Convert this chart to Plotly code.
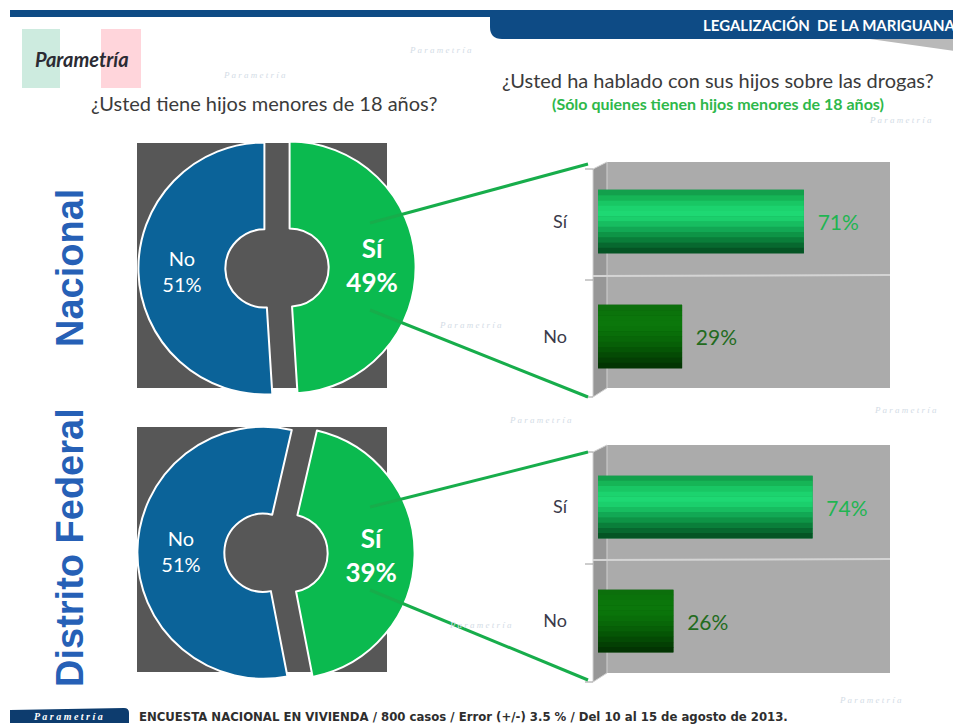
import plotly.graph_objects as go

# the page body keeps its default 8px margin, so the figure is 8px smaller
# and every position below is given in window pixels
OFF = 8
W, H = 961 - OFF, 726 - OFF

# ¿Usted tiene hijos menores de 18 años?
pie_labels = ["Sí", "No"]
nacional_hijos = [49, 51]
df_hijos = [39, 51]

# ¿Usted ha hablado con sus hijos sobre las drogas?
bar_cats = ["Sí", "No"]
nacional_hablado = [71, 29]
df_hablado = [74, 26]

BLUE = "#0b6399"
GREEN = "#0bba4f"
NAVY = "#0e4b85"
LINE_GREEN = "#17ad4b"
FONT = "Lato, Open Sans, sans-serif"


def fx(px):
    return (px - OFF) / W


def fy(py):
    return 1 - (py - OFF) / H


def donut(values, cx, cy, rot):
    half = 126 * 1.1
    return go.Pie(
        labels=pie_labels,
        values=values,
        sort=False,
        direction="clockwise",
        rotation=rot,
        hole=0.31,
        pull=[0.1, 0.1],
        domain=dict(x=[fx(cx - half), fx(cx + half)],
                    y=[fy(cy + half), fy(cy - half)]),
        marker=dict(colors=[GREEN, BLUE], line=dict(color="white", width=2)),
        texttemplate=["<b>%{label}<br>%{value}%</b>", "%{label}<br>%{value}%"],
        textposition="inside",
        insidetextorientation="horizontal",
        textfont=dict(family=FONT, size=[26, 20], color="white"),
        hoverinfo="skip",
        showlegend=False,
    )


fig = go.Figure()
fig.add_trace(donut(nacional_hijos, 277, 268, 0))
fig.add_trace(donut(df_hijos, 276, 553, 13))

# fake cylinder shading, top to bottom: [Sí colour, No colour]
shade = [
    ["#13a04c", "#0c6f0c"], ["#16b556", "#0b730b"], ["#19c764", "#0b760b"],
    ["#1cd36e", "#0b770b"], ["#1ed873", "#0a740a"], ["#1bcf6c", "#096e09"],
    ["#17bd60", "#086708"], ["#12a854", "#075f07"], ["#0e9446", "#055505"],
    ["#0a7e3a", "#044a04"], ["#07682f", "#033f03"], ["#045424", "#023402"],
]
BW = 0.55


def add_bars(values, xa, ya):
    # base bar carries the value label
    fig.add_trace(go.Bar(
        x=values, y=bar_cats, orientation="h", width=BW,
        marker=dict(color=["#0e9446", "#055505"], line=dict(width=0)),
        xaxis=xa, yaxis=ya,
        texttemplate="\u00a0\u00a0%{x}%", textposition="outside",
        textfont=dict(family=FONT, size=21, color=["#1fb552", "#236b1e"]),
        cliponaxis=False, hoverinfo="skip", showlegend=False,
    ))
    step = BW / len(shade)
    for i, cols in enumerate(shade):
        fig.add_trace(go.Bar(
            x=values, y=bar_cats, orientation="h",
            width=step * 1.05, offset=-BW / 2 + i * step,
            marker=dict(color=cols, line=dict(width=0)),
            xaxis=xa, yaxis=ya, textposition="none",
            hoverinfo="skip", showlegend=False,
        ))


add_bars(nacional_hablado, "x2", "y2")
add_bars(df_hablado, "x3", "y3")

xa = dict(range=[0, 100], showgrid=False, zeroline=False, showticklabels=False,
          showline=False, fixedrange=True)
ya = dict(range=[1.5, -0.5], showgrid=False, zeroline=False, showline=False,
          ticks="", ticklabelstandoff=30,
          tickfont=dict(family=FONT, size=18, color="#3a3a4a"))

shapes = []

# header
shapes.append(dict(type="rect", xref="paper", yref="paper",
                   x0=fx(10), x1=fx(500), y0=fy(17), y1=fy(10),
                   fillcolor=NAVY, line_width=0, layer="below"))
shapes.append(dict(type="path", xref="paper", yref="paper",
                   path=f"M {fx(490)},{fy(10)} L {fx(961)},{fy(10)} L {fx(961)},{fy(39)} "
                        f"L {fx(502)},{fy(39)} Q {fx(490)},{fy(39)} {fx(490)},{fy(27)} Z",
                   fillcolor=NAVY, line_width=0, layer="below"))
shapes.append(dict(type="path", xref="paper", yref="paper",
                   path=f"M {fx(870)},{fy(39)} L {fx(961)},{fy(39)} L {fx(961)},{fy(52)} Z",
                   fillcolor="#b9b9b9", line_width=0, layer="below"))

# logo blocks
shapes.append(dict(type="rect", xref="paper", yref="paper",
                   x0=fx(22), x1=fx(60), y0=fy(88), y1=fy(29),
                   fillcolor="#cdebdf", line_width=0, layer="below"))
shapes.append(dict(type="rect", xref="paper", yref="paper",
                   x0=fx(101), x1=fx(141), y0=fy(88), y1=fy(29),
                   fillcolor="#ffd5db", line_width=0, layer="below"))

# dark boxes behind donuts
for y0, y1 in [(143, 388), (427, 672)]:
    shapes.append(dict(type="rect", xref="paper", yref="paper",
                       x0=fx(137), x1=fx(387), y0=fy(y1), y1=fy(y0),
                       fillcolor="#575757", line_width=0, layer="below"))

# 3D-ish bar panels
for top, bot in [(162, 388), (445, 673)]:
    mid = (top + bot) / 2
    shapes.append(dict(type="rect", xref="paper", yref="paper",
                       x0=fx(607), x1=fx(890), y0=fy(bot), y1=fy(top),
                       fillcolor="#ababab", line_width=0, layer="below"))
    shapes.append(dict(type="path", xref="paper", yref="paper",
                       path=f"M {fx(593)},{fy(top + 7)} L {fx(607)},{fy(top)} L {fx(607)},{fy(bot)} "
                            f"L {fx(593)},{fy(bot + 9)} Z",
                       fillcolor="#979797", line=dict(color="#d0d0d0", width=1), layer="below"))
    shapes.append(dict(type="line", xref="paper", yref="paper",
                       x0=fx(593), x1=fx(890), y0=fy(mid + 1), y1=fy(mid),
                       line=dict(color="#d4d4d4", width=2), layer="below"))
    for yy in [top + 7, mid + 5, bot + 9]:
        shapes.append(dict(type="line", xref="paper", yref="paper",
                           x0=fx(585), x1=fx(593), y0=fy(yy), y1=fy(yy),
                           line=dict(color="#9a9a9a", width=1), layer="below"))

# connectors from the "Sí" slice to the bar panels
for (a, b), (c, d) in [((370, 223), (588, 164)), ((370, 310), (588, 397)),
                       ((370, 507), (588, 452)), ((370, 590), (588, 680))]:
    shapes.append(dict(type="line", xref="paper", yref="paper",
                       x0=fx(a), y0=fy(b), x1=fx(c), y1=fy(d),
                       line=dict(color=LINE_GREEN, width=3), layer="above"))

# footer logo box
shapes.append(dict(type="path", xref="paper", yref="paper",
                   path=f"M {fx(10)},{fy(723)} L {fx(10)},{fy(710)} L {fx(124)},{fy(708)} "
                        f"Q {fx(129)},{fy(708)} {fx(129)},{fy(713)} L {fx(129)},{fy(723)} Z",
                   fillcolor="#0d3c6e", line_width=0, layer="below"))

annotations = []


def note(text, x, y, size, color, xanchor="center", angle=0, family=FONT):
    annotations.append(dict(text=text, x=fx(x), y=fy(y), xref="paper", yref="paper",
                            showarrow=False, xanchor=xanchor, yanchor="middle",
                            textangle=angle,
                            font=dict(family=family, size=size, color=color)))


# faint watermarks
for wx, wy in [(255, 75), (440, 50), (470, 325), (905, 410), (540, 420),
               (870, 700), (900, 120), (480, 625)]:
    note("<i>P a r a m e t r í a</i>", wx, wy, 9, "#d3dce6",
         family="Liberation Serif, serif")

note("<b>LEGALIZACIÓN&nbsp;&nbsp;DE LA MARIGUANA</b>", 958, 25, 15, "white", xanchor="right")
note("<b><i>Parametría</i></b>", 82, 59, 20, "#2b2b33")
note("¿Usted tiene hijos menores de 18 años?", 264, 103, 20, "#3b3b3b")
note("¿Usted ha hablado con sus hijos sobre las drogas?", 718, 80, 20, "#3b3b3b")
note("<b>(Sólo quienes tienen hijos menores de 18 años)</b>", 718, 104, 16, "#2eb84a")
note("<b>Nacional</b>", 70, 268, 38, "#2660b6", angle=-90,
     family="Liberation Sans, Arial, sans-serif")
note("<b>Distrito Federal</b>", 70, 548, 38, "#2660b6", angle=-90,
     family="Liberation Sans, Arial, sans-serif")
note("<b><i>P a r a m e t r í a</i></b>", 69, 716, 10, "white",
     family="Liberation Serif, serif")
note("<b>ENCUESTA NACIONAL EN VIVIENDA / 800 casos / Error (+/-) 3.5 % / "
     "Del 10 al 15 de agosto de 2013.</b>", 137, 716, 13, "#2e2e2e", xanchor="left",
     family="Liberation Sans Narrow, DejaVu Sans Condensed, sans-serif")

fig.update_layout(
    width=W,
    height=H,
    margin=dict(l=0, r=0, t=0, b=0),
    paper_bgcolor="white",
    plot_bgcolor="rgba(0,0,0,0)",
    barmode="overlay",
    font=dict(family=FONT),
    xaxis2=dict(xa, domain=[fx(598), fx(888)], anchor="y2"),
    yaxis2=dict(ya, domain=[fy(394), fy(164)], anchor="x2"),
    xaxis3=dict(xa, domain=[fx(598), fx(888)], anchor="y3"),
    yaxis3=dict(ya, domain=[fy(678), fy(450)], anchor="x3"),
    shapes=shapes,
    annotations=annotations,
)

fig.write_html("out.html")
